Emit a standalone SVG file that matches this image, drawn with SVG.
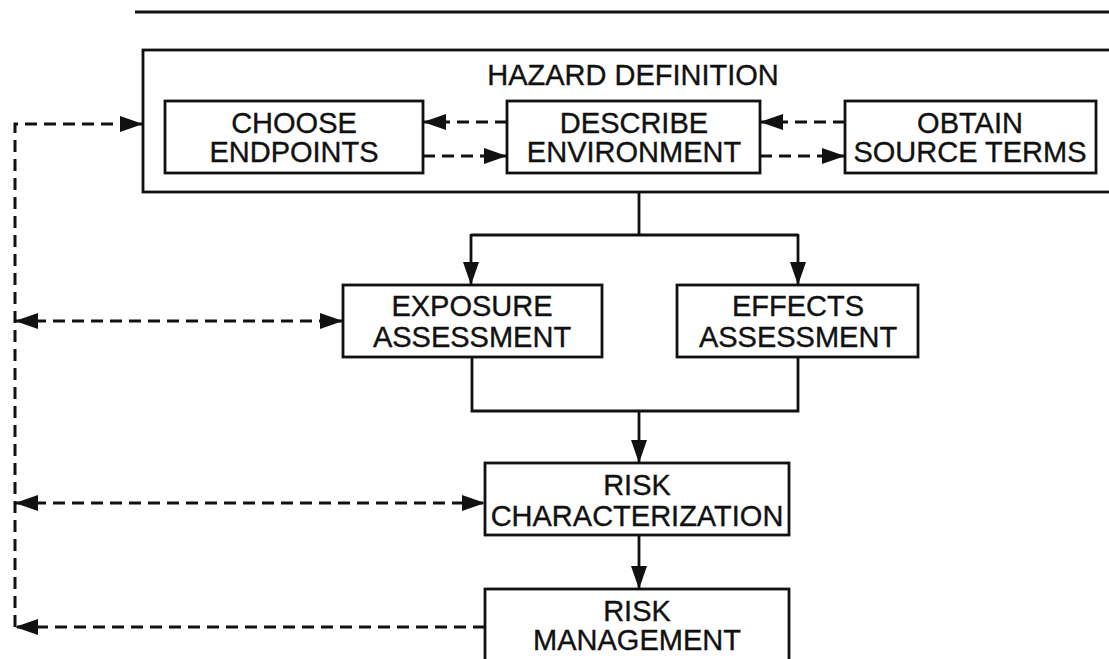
<svg xmlns="http://www.w3.org/2000/svg" width="1109" height="659" viewBox="0 0 1109 659">
  <defs>
    <marker id="arrow" markerUnits="userSpaceOnUse" markerWidth="24" markerHeight="18" refX="23" refY="9" orient="auto">
      <path d="M0,1 L23,9 L0,17 Z" fill="#111"/>
    </marker>
    <marker id="arrowStart" markerUnits="userSpaceOnUse" markerWidth="24" markerHeight="18" refX="1" refY="9" orient="auto">
      <path d="M24,1 L1,9 L24,17 Z" fill="#111"/>
    </marker>
    <style>
      .box { fill: #fff; stroke: #111; stroke-width: 2.8; }
      .lbl { font-family: "Liberation Sans", Arial, Helvetica, sans-serif; font-size: 29px; fill: #111; stroke: #111; stroke-width: 0.35; text-anchor: middle; }
      .solid { fill: none; stroke: #111; stroke-width: 2.8; }
      .dash { fill: none; stroke: #111; stroke-width: 3; stroke-dasharray: 12 7; }
    </style>
  </defs>
  <rect width="1109" height="659" fill="#fff"/>

  <!-- header rule -->
  <line x1="135" y1="12" x2="1109" y2="12" stroke="#111" stroke-width="3"/>

  <!-- hazard definition container -->
  <g id="hazard-definition">
    <rect class="box" x="143" y="50" width="990" height="142"/>
    <text class="lbl" x="633" y="85">HAZARD DEFINITION</text>
  </g>

  <g id="choose-endpoints">
    <rect class="box" x="165" y="101" width="258" height="72"/>
    <text class="lbl" x="294" y="133">CHOOSE</text>
    <text class="lbl" x="294" y="162">ENDPOINTS</text>
  </g>

  <g id="describe-environment">
    <rect class="box" x="507" y="101" width="253" height="72"/>
    <text class="lbl" x="634" y="133">DESCRIBE</text>
    <text class="lbl" x="634" y="162">ENVIRONMENT</text>
  </g>

  <g id="obtain-source-terms">
    <rect class="box" x="845" y="101" width="251" height="72"/>
    <text class="lbl" x="970" y="133">OBTAIN</text>
    <text class="lbl" x="970" y="162">SOURCE TERMS</text>
  </g>

  <g id="exposure-assessment">
    <rect class="box" x="343" y="285" width="259" height="72"/>
    <text class="lbl" x="472" y="316">EXPOSURE</text>
    <text class="lbl" x="472" y="347">ASSESSMENT</text>
  </g>

  <g id="effects-assessment">
    <rect class="box" x="677" y="285" width="241" height="72"/>
    <text class="lbl" x="798" y="316">EFFECTS</text>
    <text class="lbl" x="798" y="347">ASSESSMENT</text>
  </g>

  <g id="risk-characterization">
    <rect class="box" x="485" y="463" width="304" height="72"/>
    <text class="lbl" x="637" y="495">RISK</text>
    <text class="lbl" x="637" y="526">CHARACTERIZATION</text>
  </g>

  <g id="risk-management">
    <rect class="box" x="485" y="589" width="304" height="90"/>
    <text class="lbl" x="637" y="621">RISK</text>
    <text class="lbl" x="637" y="650">MANAGEMENT</text>
  </g>

  <g id="connectors">
    <!-- exchanges inside hazard definition -->
    <line class="dash" x1="507" y1="122" x2="423" y2="122" marker-end="url(#arrow)"/>
    <line class="dash" x1="423" y1="156" x2="507" y2="156" marker-end="url(#arrow)"/>
    <line class="dash" x1="845" y1="122" x2="760" y2="122" marker-end="url(#arrow)"/>
    <line class="dash" x1="760" y1="156" x2="845" y2="156" marker-end="url(#arrow)"/>

    <!-- hazard definition to the two assessments -->
    <path class="solid" d="M639,192 V235 M471,235 H798"/>
    <line class="solid" x1="471" y1="234" x2="471" y2="285" marker-end="url(#arrow)"/>
    <line class="solid" x1="798" y1="234" x2="798" y2="285" marker-end="url(#arrow)"/>

    <!-- assessments merge into risk characterization -->
    <path class="solid" d="M472,357 V411 H798 V357"/>
    <line class="solid" x1="639" y1="411" x2="639" y2="463" marker-end="url(#arrow)"/>
    <line class="solid" x1="639" y1="535" x2="639" y2="589" marker-end="url(#arrow)"/>

    <!-- feedback loop on the left -->
    <path class="dash" d="M15,627 V124 H143" marker-end="url(#arrow)"/>
    <line class="dash" x1="15" y1="321" x2="343" y2="321" marker-start="url(#arrowStart)" marker-end="url(#arrow)"/>
    <line class="dash" x1="15" y1="503" x2="485" y2="503" marker-start="url(#arrowStart)" marker-end="url(#arrow)"/>
    <line class="dash" x1="485" y1="627" x2="15" y2="627" marker-end="url(#arrow)"/>
  </g>
</svg>
